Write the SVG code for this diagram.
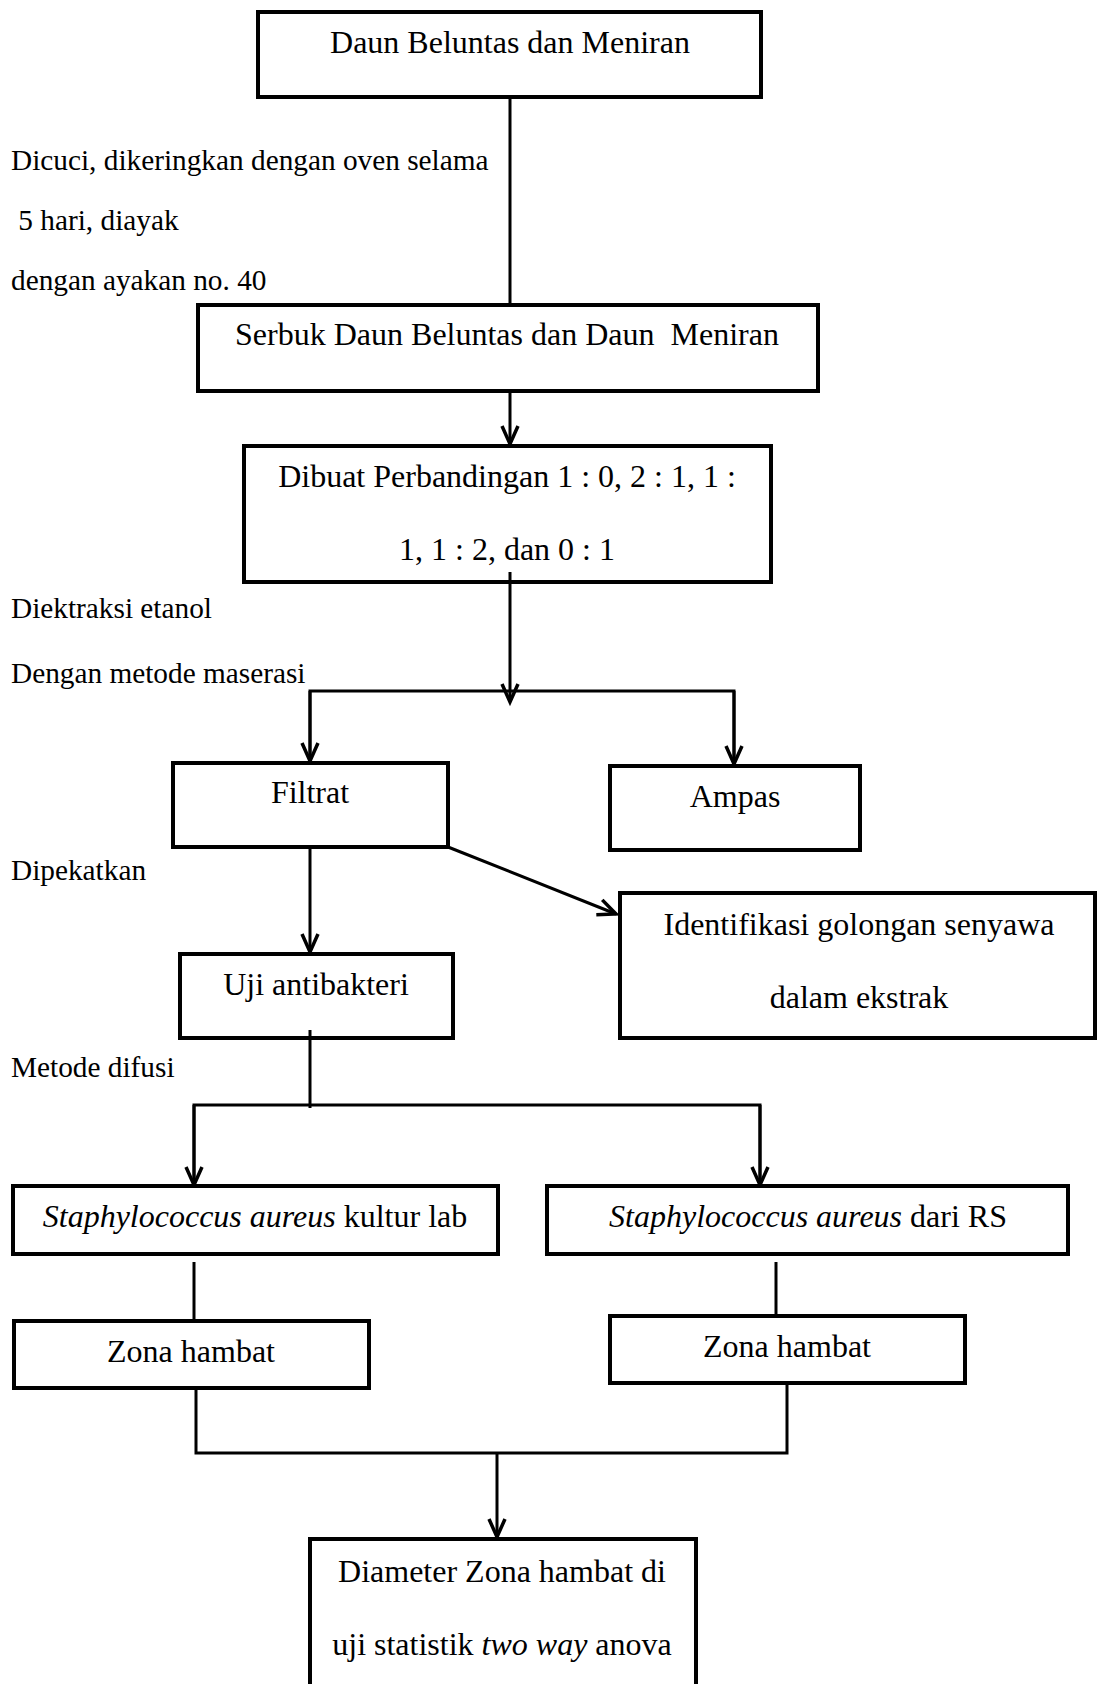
<svg xmlns="http://www.w3.org/2000/svg" width="1097" height="1684" viewBox="0 0 1097 1684">
<style>
.box{fill:#fff;stroke:#000;stroke-width:4}
.t{font-family:"Liberation Serif","Times New Roman",serif;font-size:32px;fill:#000;text-anchor:middle;white-space:pre}
.l{font-family:"Liberation Serif","Times New Roman",serif;font-size:29.3px;fill:#000;white-space:pre}
.c{fill:none;stroke:#000;stroke-width:3}
.i{font-style:italic}
</style>
<defs>
<marker id="arr" markerUnits="userSpaceOnUse" markerWidth="22" markerHeight="22" viewBox="-20 -11 22 22" refX="0" refY="0" orient="auto" overflow="visible">
<path d="M-18,-8 L0,0 L-18,8" fill="none" stroke="#000" stroke-width="3.5"/>
</marker>
</defs>
<g id="labels">
<text class="l" x="11" y="170">Dicuci, dikeringkan dengan oven selama</text>
<text class="l" x="11" y="230" xml:space="preserve"> 5 hari, diayak</text>
<text class="l" x="11" y="290">dengan ayakan no. 40</text>
<text class="l" x="11" y="618">Diektraksi etanol</text>
<text class="l" x="11" y="683">Dengan metode maserasi</text>
<text class="l" x="11" y="880">Dipekatkan</text>
<text class="l" x="11" y="1077">Metode difusi</text>
</g>
<g id="connectors">
<line class="c" x1="510" y1="97" x2="510" y2="304"/>
<line class="c" x1="510" y1="380" x2="510" y2="444" marker-end="url(#arr)"/>
<line class="c" x1="510" y1="575" x2="510" y2="702" marker-end="url(#arr)"/>
<polyline class="c" points="310,762 310,691 734,691 734,765"/>
<line class="c" x1="310" y1="691" x2="310" y2="761" marker-end="url(#arr)"/>
<line class="c" x1="734" y1="691" x2="734" y2="764" marker-end="url(#arr)"/>
<line class="c" x1="310" y1="847" x2="310" y2="952" marker-end="url(#arr)"/>
<line class="c" x1="448" y1="847" x2="616" y2="914" marker-end="url(#arr)"/>
<line class="c" x1="310" y1="1032" x2="310" y2="1108"/>
<polyline class="c" points="194,1185 194,1105 760,1105 760,1185"/>
<line class="c" x1="194" y1="1105" x2="194" y2="1185" marker-end="url(#arr)"/>
<line class="c" x1="760" y1="1105" x2="760" y2="1185" marker-end="url(#arr)"/>
<line class="c" x1="194" y1="1262" x2="194" y2="1320"/>
<line class="c" x1="776" y1="1262" x2="776" y2="1315"/>
<polyline class="c" points="196,1388 196,1453 787,1453 787,1383"/>
<line class="c" x1="497" y1="1453" x2="497" y2="1537" marker-end="url(#arr)"/>
</g>
<g id="n1"><rect class="box" x="258" y="12" width="503" height="85"/><text class="t" x="510" y="53">Daun Beluntas dan Meniran</text></g>
<g id="n2"><rect class="box" x="198" y="305" width="620" height="86"/><text class="t" x="507" y="345" xml:space="preserve">Serbuk Daun Beluntas dan Daun  Meniran</text></g>
<g id="n3"><rect class="box" x="244" y="446" width="527" height="136"/><text class="t" x="507" y="487">Dibuat Perbandingan 1 : 0, 2 : 1, 1 :</text><text class="t" x="507" y="560">1, 1 : 2, dan 0 : 1</text></g>
<line class="c" x1="510" y1="572" x2="510" y2="582"/>
<g id="n4"><rect class="box" x="173" y="763" width="275" height="84"/><text class="t" x="310" y="803">Filtrat</text></g>
<g id="n5"><rect class="box" x="610" y="766" width="250" height="84"/><text class="t" x="735" y="807">Ampas</text></g>
<g id="n6"><rect class="box" x="620" y="893" width="475" height="145"/><text class="t" x="859" y="935">Identifikasi golongan senyawa</text><text class="t" x="859" y="1008">dalam ekstrak</text></g>
<g id="n7"><rect class="box" x="180" y="954" width="273" height="84"/><text class="t" x="316" y="995">Uji antibakteri</text></g>
<line class="c" x1="310" y1="1030" x2="310" y2="1040"/>
<g id="n8"><rect class="box" x="13" y="1186" width="485" height="68"/><text class="t" x="255" y="1227"><tspan class="i">Staphylococcus aureus</tspan> kultur lab</text></g>
<g id="n9"><rect class="box" x="547" y="1186" width="521" height="68"/><text class="t" x="808" y="1227"><tspan class="i">Staphylococcus aureus</tspan> dari RS</text></g>
<g id="n10"><rect class="box" x="14" y="1321" width="355" height="67"/><text class="t" x="191" y="1362">Zona hambat</text></g>
<g id="n11"><rect class="box" x="610" y="1316" width="355" height="67"/><text class="t" x="787" y="1357">Zona hambat</text></g>
<g id="n12"><rect class="box" x="310" y="1539" width="386" height="160"/><text class="t" x="502" y="1582">Diameter Zona hambat di</text><text class="t" x="502" y="1655">uji statistik <tspan class="i">two way</tspan> anova</text></g>
</svg>
